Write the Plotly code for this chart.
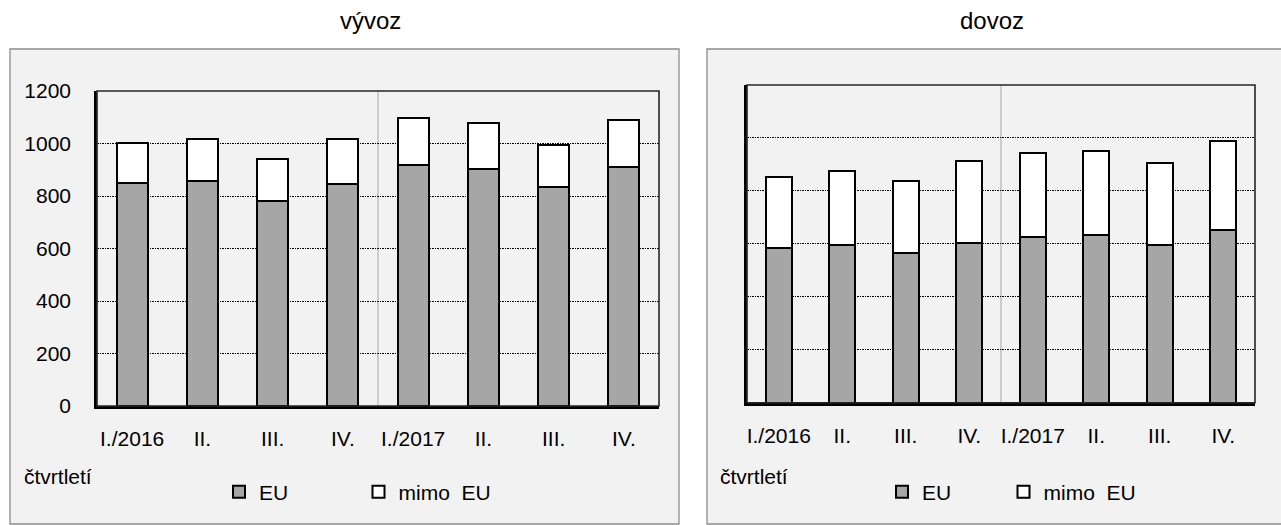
import plotly.graph_objects as go

# ---- data ----
quarter_labels = ["I./2016", "II.", "III.", "IV.", "I./2017", "II.", "III.", "IV."]
export_eu = [850, 857, 782, 845, 919, 903, 835, 912]
export_non_eu = [153, 161, 160, 173, 177, 176, 160, 176]
import_eu = [583, 597, 566, 604, 626, 634, 596, 651]
import_non_eu = [270, 278, 271, 310, 317, 316, 309, 337]
y_ticks = [0, 200, 400, 600, 800, 1000, 1200]
series_names = ["EU", "mimo\u00a0\u00a0EU"]
panel_titles = ["vývoz", "dovoz"]
axis_title = "čtvrtletí"

W, H = 1281, 525
FONT = "Arial, Liberation Sans, sans-serif"
TXT = 21


def px(x):
    return x / W


def py(y):
    return 1 - y / H


positions = list(range(len(quarter_labels)))

fig = go.Figure()

line = dict(color="black", width=2)
# left panel
fig.add_trace(go.Bar(x=positions, y=export_eu, width=0.44, name=series_names[0],
                     marker=dict(color="#a6a6a6", line=line), xaxis="x", yaxis="y",
                     legend="legend"))
fig.add_trace(go.Bar(x=positions, y=export_non_eu, width=0.44, name=series_names[1],
                     marker=dict(color="white", line=line), xaxis="x", yaxis="y",
                     legend="legend2"))
# right panel
fig.add_trace(go.Bar(x=positions, y=import_eu, width=0.415, name=series_names[0],
                     marker=dict(color="#a6a6a6", line=line), xaxis="x2", yaxis="y2",
                     legend="legend3"))
fig.add_trace(go.Bar(x=positions, y=import_non_eu, width=0.415, name=series_names[1],
                     marker=dict(color="white", line=line), xaxis="x2", yaxis="y2",
                     legend="legend4"))

xcommon = dict(range=[-0.5, 7.5], tickvals=positions, ticktext=quarter_labels,
               showgrid=False, zeroline=False, showline=True, linecolor="black",
               linewidth=2.5, ticks="", tickfont=dict(size=TXT, color="black", family=FONT),
               ticklabelstandoff=12, fixedrange=True, automargin=False)
ycommon = dict(range=[0, 1200], tickvals=y_ticks, showgrid=True, gridcolor="black",
               gridwidth=1, griddash="1.5px,1px", zeroline=False, showline=True,
               linecolor="black", linewidth=2.5, ticks="",
               tickfont=dict(size=TXT, color="black", family=FONT), fixedrange=True,
               automargin=False)

legend_common = dict(orientation="h", xref="container", yref="container",
                     xanchor="left", yanchor="middle",
                     bgcolor="rgba(0,0,0,0)", font=dict(size=TXT))

fig.update_layout(
    width=W, height=H,
    margin=dict(l=0, r=0, t=0, b=0, autoexpand=False),
    paper_bgcolor="white", plot_bgcolor="white",
    barmode="stack",
    font=dict(family=FONT, size=TXT, color="black"),
    xaxis=dict(xcommon, domain=[px(97), px(659)], anchor="y"),
    yaxis=dict(ycommon, domain=[py(406), py(91)], anchor="x", ticklabelstandoff=19),
    xaxis2=dict(xcommon, domain=[px(747), px(1255)], anchor="y2"),
    yaxis2=dict(ycommon, domain=[py(402.7), py(85)], anchor="x2", showticklabels=False),
    legend=dict(legend_common, x=px(219), y=py(492)),
    legend2=dict(legend_common, x=px(358.5), y=py(492)),
    legend3=dict(legend_common, x=px(882), y=py(492)),
    legend4=dict(legend_common, x=px(1003.5), y=py(492)),
    showlegend=True,
)

shapes = []
# outer panel boxes
shapes.append(dict(type="rect", xref="paper", yref="paper", x0=px(10), x1=px(679),
                   y0=py(524), y1=py(49), fillcolor="#f2f2f2",
                   line=dict(color="#8c8c8c", width=1.3), layer="below"))
shapes.append(dict(type="rect", xref="paper", yref="paper", x0=px(707), x1=px(1290),
                   y0=py(524), y1=py(49), fillcolor="#f2f2f2",
                   line=dict(color="#8c8c8c", width=1.3), layer="below"))
for xa, ya in (("x", "y"), ("x2", "y2")):
    # plot frame (top/right)
    shapes.append(dict(type="rect", xref=f"{xa} domain", yref=f"{ya} domain",
                       x0=0, x1=1, y0=0, y1=1, line=dict(color="#262626", width=1.6),
                       layer="above"))
    # separator between years
    shapes.append(dict(type="line", xref=xa, yref=f"{ya} domain", x0=3.5, x1=3.5,
                       y0=0, y1=1, line=dict(color="#c0c0c0", width=1.5), layer="below"))
fig.update_layout(shapes=shapes)

annotations = [
    dict(text=panel_titles[0], x=px(370), y=py(20.6), xref="paper", yref="paper",
         xanchor="center", yanchor="middle", showarrow=False, font=dict(size=24)),
    dict(text=panel_titles[1], x=px(992), y=py(20.6), xref="paper", yref="paper",
         xanchor="center", yanchor="middle", showarrow=False, font=dict(size=24)),
    dict(text=axis_title, x=px(21.7), y=py(476.7), xref="paper", yref="paper",
         xanchor="left", yanchor="middle", showarrow=False, font=dict(size=TXT)),
    dict(text=axis_title, x=px(718.3), y=py(476.7), xref="paper", yref="paper",
         xanchor="left", yanchor="middle", showarrow=False, font=dict(size=TXT)),
]
fig.update_layout(annotations=annotations)

fig.write_html("out.html", config={"displayModeBar": False},
               post_script="document.body.style.margin='0px';")
